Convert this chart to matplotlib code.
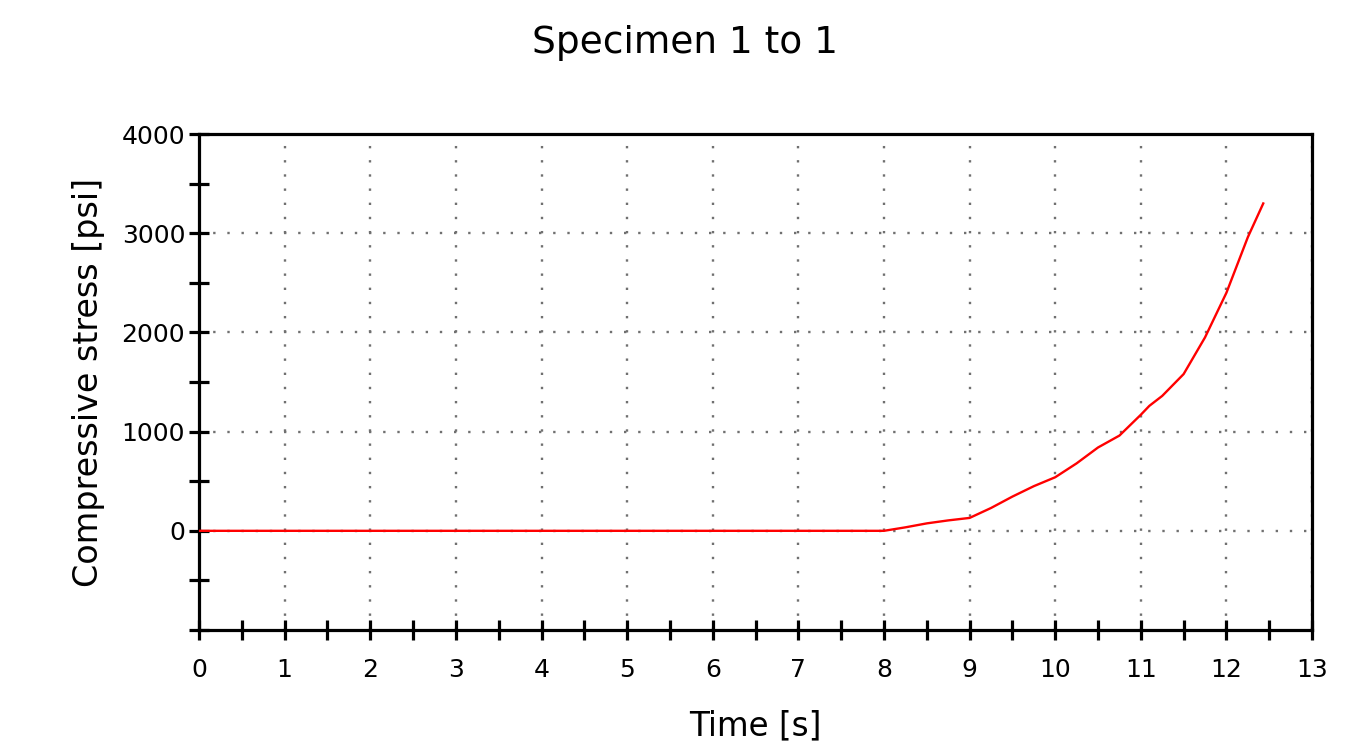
import matplotlib
matplotlib.use("Agg")
import matplotlib.pyplot as plt
from matplotlib.ticker import MultipleLocator, FixedLocator

# Data
time_s = [0, 1, 2, 3, 4, 5, 6, 7, 8, 8.25, 8.5, 8.75, 9, 9.25, 9.5, 9.75,
          10, 10.25, 10.5, 10.75, 11, 11.1, 11.25, 11.5, 11.75, 12, 12.25, 12.43]
stress_psi = [0, 0, 0, 0, 0, 0, 0, 0, 0, 35, 75, 105, 130, 230, 345, 450,
              540, 680, 840, 960, 1170, 1260, 1360, 1580, 1950, 2400, 2960, 3300]

title = "Specimen 1 to 1"
xlabel = "Time [s]"
ylabel = "Compressive stress [psi]"
x_major = list(range(0, 14))
y_major = [0, 1000, 2000, 3000, 4000]

plt.rcParams['font.family'] = ['DejaVu Sans']

fig = plt.figure(figsize=(13.71, 7.47), dpi=100)
ax = fig.add_axes([0.1452, 0.1566, 0.957 - 0.1452, 0.8206 - 0.1566])

ax.plot(time_s, stress_psi, color='#ff0000', linewidth=1.7, zorder=3)

ax.set_xlim(0, 13)
ax.set_ylim(-1000, 4000)
ax.xaxis.set_major_locator(FixedLocator(x_major))
ax.xaxis.set_minor_locator(MultipleLocator(0.5))
ax.yaxis.set_major_locator(FixedLocator(y_major))
ax.yaxis.set_minor_locator(MultipleLocator(500))

ax.grid(True, which='major', color='#707070', linestyle=(0, (1, 5)), linewidth=1.7)

for s in ax.spines.values():
    s.set_linewidth(2.3)
    s.set_color('black')

ax.tick_params(which='both', direction='inout', length=14, width=2.3, color='black',
               labelsize=18, pad=3, top=False, right=False)
ax.tick_params(axis='x', which='both', pad=13)

ax.set_xlabel(xlabel, fontsize=23.5, labelpad=20)
ax.set_ylabel(ylabel, fontsize=24, labelpad=12)
fig.suptitle(title, fontsize=27, x=0.5, y=0.966)

fig.savefig("out.png", dpi=100)
